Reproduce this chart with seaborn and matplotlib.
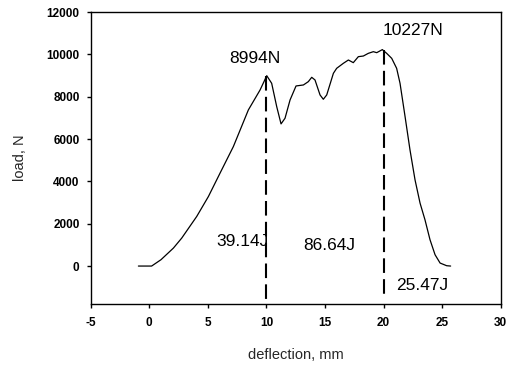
import matplotlib
matplotlib.use("Agg")
import matplotlib.pyplot as plt
import pandas as pd
import seaborn as sns

# load-deflection curve
deflection = [-0.93, 0.2, 1.0, 2.06, 2.77, 4.05, 5.05, 6.04, 7.18, 8.46, 9.46, 10.03,
              10.45, 10.88, 11.25, 11.59, 12.02, 12.53, 13.16, 13.58, 13.87, 14.15,
              14.58, 14.86, 15.15, 15.72, 16.0, 16.57, 17.0, 17.42, 17.85, 18.28,
              18.7, 19.13, 19.42, 19.9, 20.27, 20.7, 21.12, 21.41, 21.84, 22.26,
              22.69, 23.12, 23.54, 23.97, 24.4, 24.83, 25.39, 25.73]
load = [0, 0, 300, 849, 1321, 2343, 3287, 4388, 5646, 7377, 8320, 8994,
        8635, 7534, 6716, 6983, 7848, 8509, 8556, 8713, 8918, 8792,
        8084, 7880, 8084, 9107, 9343, 9579, 9736, 9610, 9893, 9924,
        10050, 10129, 10082, 10227, 10050, 9814, 9343, 8635, 7062, 5489,
        4074, 2973, 2186, 1243, 535, 142, 16, 0]

# dashed markers at the two peaks
peak_x = [10, 20]
peak_top = [8994, 10227]
peak_bottom = [-1750, -1450]

# annotations
label_text = ["8994N", "10227N", "39.14J", "86.64J", "25.47J"]
label_x = [9.0, 22.5, 7.95, 15.4, 23.3]
label_y = [9800, 11150, 1150, 950, -930]

xticks = [-5, 0, 5, 10, 15, 20, 25, 30]
yticks = [0, 2000, 4000, 6000, 8000, 10000, 12000]

sns.set_theme(style="ticks")
plt.rcParams["font.family"] = ["Liberation Sans", "DejaVu Sans"]
plt.rcParams["axes.unicode_minus"] = False

curve = pd.DataFrame({"deflection": deflection, "load": load})

fig, ax = plt.subplots(figsize=(5.14, 3.66), dpi=100)
fig.subplots_adjust(left=0.1765, right=0.974, top=0.967, bottom=0.169)

sns.lineplot(data=curve, x="deflection", y="load", color="black", linewidth=0.9, ax=ax)

for x, top, bottom in zip(peak_x, peak_top, peak_bottom):
    ax.plot([x, x], [top, bottom], color="black", linewidth=1.5,
            linestyle=(0, (7, 3)))

for text, x, y in zip(label_text, label_x, label_y):
    ax.text(x, y, text, fontsize=12.5, ha="center", va="center", color="black")

ax.set_xlim(-5, 30)
ax.set_ylim(-1800, 12000)
ax.set_xticks(xticks)
ax.set_yticks(yticks)
ax.tick_params(labelsize=8.5, length=3, width=1, color="black", labelcolor="black")
ax.tick_params(axis="x", pad=6)
ax.tick_params(axis="y", pad=5)
for lbl in ax.get_xticklabels() + ax.get_yticklabels():
    lbl.set_fontweight("bold")

for side in ["top", "right", "bottom", "left"]:
    ax.spines[side].set_visible(True)
    ax.spines[side].set_color("black")
    ax.spines[side].set_linewidth(1)

ax.set_xlabel("deflection, mm", fontsize=10.5, labelpad=14)
ax.set_ylabel("load, N", fontsize=10.5, labelpad=14)

fig.savefig("out.png", dpi=100)
